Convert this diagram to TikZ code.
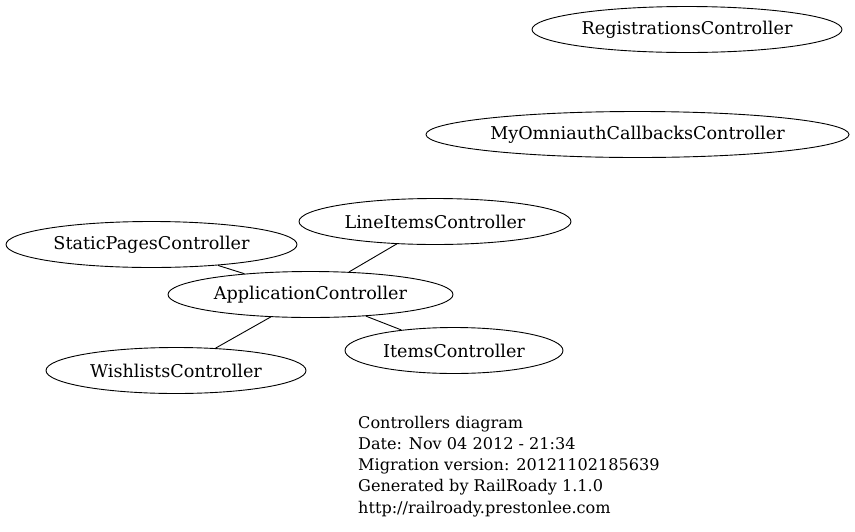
\documentclass[tikz,border=0pt]{standalone}
\usepackage{fontspec}
\setmainfont{DejaVu Serif}
\usetikzlibrary{shapes.geometric}
\begin{document}
\begin{tikzpicture}[x=1pt,y=-1pt,
  ctrl/.style={draw,ellipse,line width=0.9pt,inner sep=0pt,font=\fontsize{17.6}{20}\selectfont},
  edge/.style={line width=0.9pt},
  info/.style={anchor=base west,inner sep=0pt,font=\fontsize{16.1}{19}\selectfont}]
\useasboundingbox (0,0) rectangle (855,531);
\node[ctrl,minimum width=310,minimum height=46] (reg) at (687,29.5) {RegistrationsController};
\node[ctrl,minimum width=423,minimum height=46] (omni) at (637.5,134.5) {MyOmniauthCallbacksController};
\node[ctrl,minimum width=272,minimum height=46] (line) at (435,221.5) {LineItemsController};
\node[ctrl,minimum width=291,minimum height=46] (static) at (151.5,244.5) {StaticPagesController};
\node[ctrl,minimum width=285,minimum height=46] (app) at (310.5,294.5) {ApplicationController};
\node[ctrl,minimum width=218,minimum height=46] (items) at (454,350.5) {ItemsController};
\node[ctrl,minimum width=260,minimum height=46] (wish) at (176,370.5) {WishlistsController};
\draw[edge] (static) -- (app);
\draw[edge] (line) -- (app);
\draw[edge] (app) -- (items);
\draw[edge] (app) -- (wish);
\node[info] (t1) at (358,428) {Controllers diagram};
\node[info] (t2) at (358,449.3) {Date: Nov 04 2012 - 21:34};
\node[info] (t3) at (358,470.6) {Migration version: 20121102185639};
\node[info] (t4) at (358,491.9) {Generated by RailRoady 1.1.0};
\node[info] (t5) at (358,513.2) {http://railroady.prestonlee.com};
\end{tikzpicture}
\end{document}
